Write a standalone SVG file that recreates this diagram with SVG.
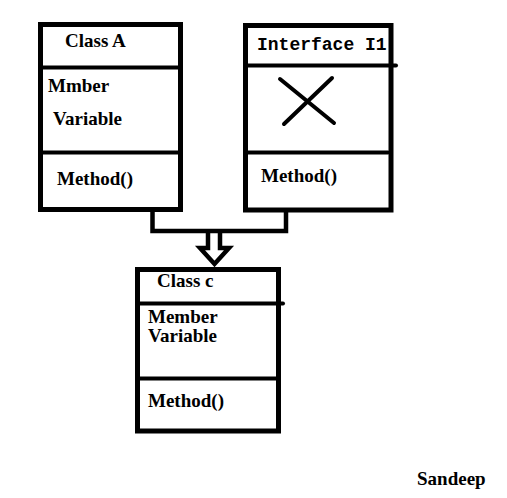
<svg xmlns="http://www.w3.org/2000/svg" width="507" height="498" viewBox="0 0 507 498">
<style>
.box{fill:none;stroke:#000;stroke-width:5}
.div{stroke:#000;stroke-width:4;stroke-linecap:round}
.t{font-family:"Liberation Serif","Times New Roman",serif;font-weight:bold;font-size:19px;fill:#000}
.m{font-family:"Liberation Mono","Courier New",monospace;font-weight:bold;font-size:18px;fill:#000}
.conn{fill:none;stroke:#000;stroke-width:4.5;stroke-linejoin:miter}
</style>
<rect width="507" height="498" fill="#fff"/>
<g id="classA">
<rect class="box" x="40.5" y="24.5" width="140" height="185"/>
<line class="div" x1="43" y1="67.5" x2="178" y2="67.5"/>
<line class="div" x1="43" y1="152.5" x2="178" y2="152.5"/>
<text class="t" x="65" y="47">Class A</text>
<text class="t" x="48" y="92">Mmber</text>
<text class="t" x="53" y="125">Variable</text>
<text class="t" x="57" y="185">Method()</text>
</g>
<g id="interfaceI1">
<rect class="box" x="245.5" y="25.5" width="145.5" height="184.5"/>
<line class="div" x1="248" y1="65.5" x2="396" y2="65.5"/>
<line class="div" x1="248" y1="152.5" x2="388" y2="152.5"/>
<line class="div" x1="280" y1="79" x2="334" y2="123"/>
<line class="div" x1="332" y1="78" x2="284" y2="124"/>
<text class="m" x="257" y="50">Interface I1</text>
<text class="t" x="261" y="182">Method()</text>
</g>
<g id="classC">
<rect class="box" x="137.5" y="269.5" width="141" height="161.5"/>
<line class="div" x1="140" y1="303.5" x2="283" y2="303.5"/>
<line class="div" x1="140" y1="378.5" x2="276" y2="378.5"/>
<text class="t" x="157" y="287">Class c</text>
<text class="t" x="148" y="323">Member</text>
<text class="t" x="148" y="342">Variable</text>
<text class="t" x="148" y="407">Method()</text>
</g>
<g id="connectors">
<path class="conn" d="M152.5,212 V231 H286 V212"/>
<path class="conn" d="M208,233 V248 H200 L214.5,264 L229,248 H220 V233"/>
</g>
<text class="t" x="417" y="485">Sandeep</text>
</svg>
